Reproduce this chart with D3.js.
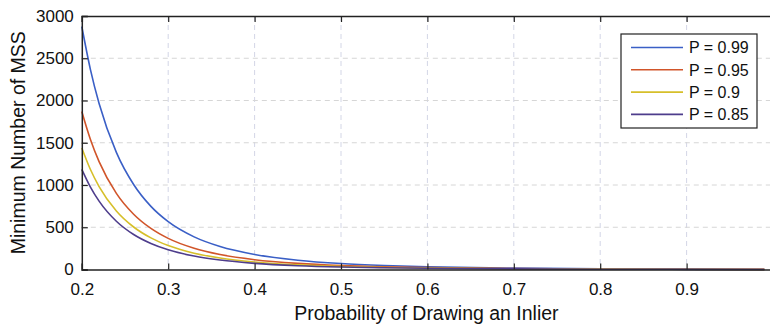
<!DOCTYPE html>
<html>
<head>
<meta charset="utf-8">
<script src="https://cdn.jsdelivr.net/npm/d3@7"></script>
<style>
  body { margin: 0; background: #fff; }
  svg { display: block; font-family: "Liberation Sans", Arial, sans-serif; }
</style>
</head>
<body>
<svg id="chart" width="770" height="324"></svg>
<script>

// probability of drawing an inlier (x samples)
const inlierProb = [0.20, 0.21, 0.22, 0.24, 0.26, 0.28, 0.30, 0.33, 0.36, 0.40, 0.45, 0.50, 0.55, 0.60, 0.70, 0.80, 0.90, 0.99];

// minimum number of MSS
const p99 = [2876, 2366, 1964, 1386, 1006, 747, 566, 386, 272, 178, 110, 71, 48, 33, 17, 8.7, 4.3, 1.4];
const p95 = [1871, 1539, 1277, 901, 654, 486, 368, 251, 177, 116, 72, 46, 31, 22, 11, 5.7, 2.8, 0.9];
const p90 = [1438, 1183, 982, 693, 503, 374, 283, 193, 136, 89, 55, 36, 24, 17, 8.4, 4.4, 2.2, 0.7];
const p85 = [1185, 975, 809, 571, 414, 308, 233, 159, 112, 73, 45, 29, 20, 14, 6.9, 3.6, 1.8, 0.6];

const seriesNames = ["P = 0.99", "P = 0.95", "P = 0.9", "P = 0.85"];
const seriesColors = ["#3a5fc6", "#d1552a", "#d6bf2a", "#4e3d8c"];

const xTicks = [0.2, 0.3, 0.4, 0.5, 0.6, 0.7, 0.8, 0.9];
const yTicks = [0, 500, 1000, 1500, 2000, 2500, 3000];

const svg = d3.select("#chart");
const plotL = 81.8, plotR = 773, plotT = 16, plotB = 269.5;

const x = d3.scaleLinear().domain([0.2, 1.0]).range([plotL, plotR]);
const y = d3.scaleLinear().domain([0, 3000]).range([plotB, plotT]);

// grid
const grid = svg.append("g");
grid.selectAll(".gx")
  .data(xTicks.slice(1))
  .enter().append("line")
    .attr("x1", d => x(d)).attr("x2", d => x(d))
    .attr("y1", plotT).attr("y2", plotB)
    .attr("stroke", "#d3d6e6")
    .attr("stroke-width", 1)
    .attr("stroke-dasharray", "5,4");
grid.selectAll(".gy")
  .data(yTicks.slice(1, -1))
  .enter().append("line")
    .attr("x1", plotL).attr("x2", plotR)
    .attr("y1", d => y(d)).attr("y2", d => y(d))
    .attr("stroke", "#d6d6d6")
    .attr("stroke-width", 1)
    .attr("stroke-dasharray", "5,4");

// curves
const allSeries = [p99, p95, p90, p85];
const line = d3.line()
  .x((d, i) => x(inlierProb[i]))
  .y(d => y(d))
  .curve(d3.curveMonotoneX);

allSeries.forEach((s, k) => {
  svg.append("path")
    .datum(s)
    .attr("fill", "none")
    .attr("stroke", seriesColors[k])
    .attr("stroke-width", 1.6)
    .attr("d", line);
});

// axes: ticks point inward, on bottom, top and left
const xAxis = d3.axisBottom(x).tickValues(xTicks).tickSize(-6).tickPadding(12)
  .tickFormat(d3.format(".1f"));
const gx = svg.append("g").attr("transform", `translate(0,${plotB})`).call(xAxis);
const gxt = svg.append("g").attr("transform", `translate(0,${plotT})`)
  .call(d3.axisTop(x).tickValues(xTicks).tickSize(-6).tickFormat(""));
const yAxis = d3.axisLeft(y).tickValues(yTicks).tickSize(-6).tickPadding(8)
  .tickFormat(d3.format("d"));
const gy = svg.append("g").attr("transform", `translate(${plotL},0)`).call(yAxis);

[gx, gxt, gy].forEach(g => {
  g.select(".domain").attr("stroke", "#222").attr("stroke-width", 1.5);
  g.selectAll(".tick line").attr("stroke", "#222").attr("stroke-width", 1.2);
  g.selectAll("text").attr("fill", "#111").style("font-size", "17px")
    .style("font-family", "Liberation Sans, Arial, sans-serif");
});
gx.selectAll("text").attr("dy", "0.78em");

// axis labels
svg.append("text")
  .attr("x", (plotL + plotR) / 2 - 1)
  .attr("y", 320)
  .attr("text-anchor", "middle")
  .style("font-size", "19.5px")
  .attr("fill", "#111")
  .text("Probability of Drawing an Inlier");

svg.append("text")
  .attr("transform", `translate(25,${(plotT + plotB) / 2}) rotate(-90)`)
  .attr("text-anchor", "middle")
  .style("font-size", "19.5px")
  .attr("fill", "#111")
  .text("Minimum Number of MSS");

// legend
const legend = svg.append("g").attr("transform", "translate(621,34)");
legend.append("rect")
  .attr("width", 136).attr("height", 94)
  .attr("fill", "#fff")
  .attr("stroke", "#222").attr("stroke-width", 1.2);

const rows = legend.selectAll(".row")
  .data(seriesNames)
  .enter().append("g")
    .attr("transform", (d, i) => `translate(0,${13.5 + i * 22.3})`);
rows.append("line")
  .attr("x1", 10).attr("x2", 62)
  .attr("stroke", (d, i) => seriesColors[i])
  .attr("stroke-width", 1.6);
rows.append("text")
  .attr("x", 68).attr("dy", "0.36em")
  .style("font-size", "16px")
  .attr("fill", "#111")
  .text(d => d);

</script>
</body>
</html>
